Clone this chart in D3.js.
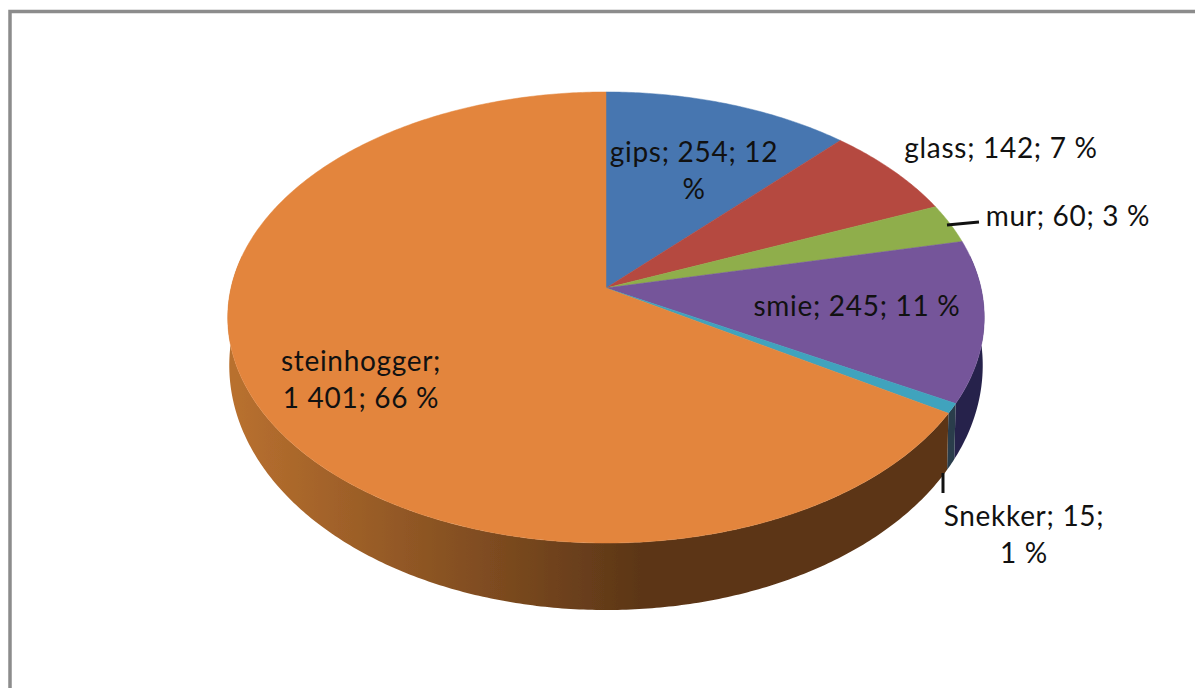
<!DOCTYPE html>
<html>
<head>
<meta charset="utf-8">
<script src="https://cdn.jsdelivr.net/npm/d3@7"></script>
<style>
html, body { margin: 0; padding: 0; background: #fff; overflow: hidden; }
svg { display: block; }
text { font-family: Lato, "Open Sans", sans-serif; font-size: 28px; letter-spacing: 0.7px; fill: #111; text-anchor: middle; }
</style>
</head>
<body>
<script>
const categories = ['gips', 'glass', 'mur', 'smie', 'Snekker', 'steinhogger'];
const values = [254, 142, 60, 245, 15, 1401];
const valueLabels = ['254', '142', '60', '245', '15', '1 401'];
const percents = ['12 %', '7 %', '3 %', '11 %', '1 %', '66 %'];
const colors = ['#4676b0', '#b5483f', '#8fae4b', '#74559a', '#3fa3bd', '#e3853c'];
const sideLight = ['#2c4a70', '#732d28', '#5a6e2f', '#3a2f68', '#2a3d4c', '#b8702f'];
const sideDark = ['#2c4a70', '#732d28', '#5a6e2f', '#28244c', '#2a3d4c', '#5c3617'];

const w = 1195;
const h = 688;
const cx = 606;
const apexY = 288;
const R = 375;
const persp = -0.1308;   // perspective of the tilted disc
const slope = 184;
const depth = 45;
const depthGrow = 22;

const svg = d3.select('body').append('svg').attr('width', w).attr('height', h);

svg.append('rect').attr('x', 10).attr('y', 11.5).attr('width', w + 20).attr('height', h + 20)
  .attr('fill', '#fff').attr('stroke', '#8c8c8c').attr('stroke-width', 3.5);

const defs = svg.append('defs');
defs.append('filter').attr('id', 'soft').append('feGaussianBlur').attr('stdDeviation', 0.7);

// circle angle -> picture position, level 0 is top face, 1 is bottom edge
function project(a, level) {
  const u = Math.sin(a);
  const v = -Math.cos(a);
  const d = 1 + persp * v;
  return [
    cx + R * u / d * (1 - 0.004 * level),
    (slope * v + apexY) / d + level * (depth + depthGrow * v)
  ];
}

function arcPoints(a0, a1, level) {
  const n = Math.max(2, Math.ceil((a1 - a0) / 0.01));
  return d3.range(n + 1).map(i => project(a0 + (a1 - a0) * i / n, level));
}

const line = d3.line();
const arcs = d3.pie().sort(null).value(d => d)(values);

const pieG = svg.append('g').attr('filter', 'url(#soft)');

// side wall, only where it faces the viewer
const sides = arcs.map((d, i) => {
  const a0 = Math.max(d.startAngle, Math.PI / 2 - 0.15);
  const a1 = Math.min(d.endAngle, 3 * Math.PI / 2 + 0.15);
  return { i, a0, a1 };
}).filter(d => d.a1 > d.a0);

sides.forEach(d => {
  const grad = defs.append('linearGradient').attr('id', 'side' + d.i)
    .attr('gradientUnits', 'userSpaceOnUse')
    .attr('x1', 235).attr('y1', 0).attr('x2', 640).attr('y2', 0);
  grad.append('stop').attr('offset', 0).attr('stop-color', sideLight[d.i]);
  grad.append('stop').attr('offset', 1).attr('stop-color', sideDark[d.i]);
  const pts = arcPoints(d.a0, d.a1, 0).concat(arcPoints(d.a0, d.a1, 1).reverse());
  pieG.append('path').attr('d', line(pts) + 'Z').attr('fill', `url(#side${d.i})`);
});

// top face
pieG.selectAll('path.slice').data(arcs).enter().append('path')
  .attr('class', 'slice')
  .attr('d', d => line([[cx, apexY]].concat(arcPoints(d.startAngle, d.endAngle, 0))) + 'Z')
  .attr('fill', (d, i) => colors[i])
  .attr('stroke', (d, i) => colors[i])
  .attr('stroke-width', 0.5);

// data labels
const label = i => `${categories[i]}; ${valueLabels[i]}; ${percents[i]}`;
const labelLines = [
  ['gips; 254; 12', '%'],
  [label(1)],
  [label(2)],
  [label(3)],
  ['Snekker; 15;', percents[4]],
  ['steinhogger;', '1 401; 66 %']
];
const labelX = [694, 1001, 1068, 857, 1024, 361];
const labelY = [162, 158, 226, 316, 526, 371];
const lineGap = 37;

labelLines.forEach((lines, i) => {
  lines.forEach((t, k) => {
    svg.append('text').attr('x', labelX[i]).attr('y', labelY[i] + k * lineGap).text(t);
  });
});

// leader lines
const leaders = [
  [[947, 225], [979, 222]],
  [[943, 473], [943, 493]]
];
leaders.forEach(l => {
  svg.append('path').attr('d', line(l)).attr('fill', 'none').attr('stroke', '#111').attr('stroke-width', 3);
});
</script>
</body>
</html>
